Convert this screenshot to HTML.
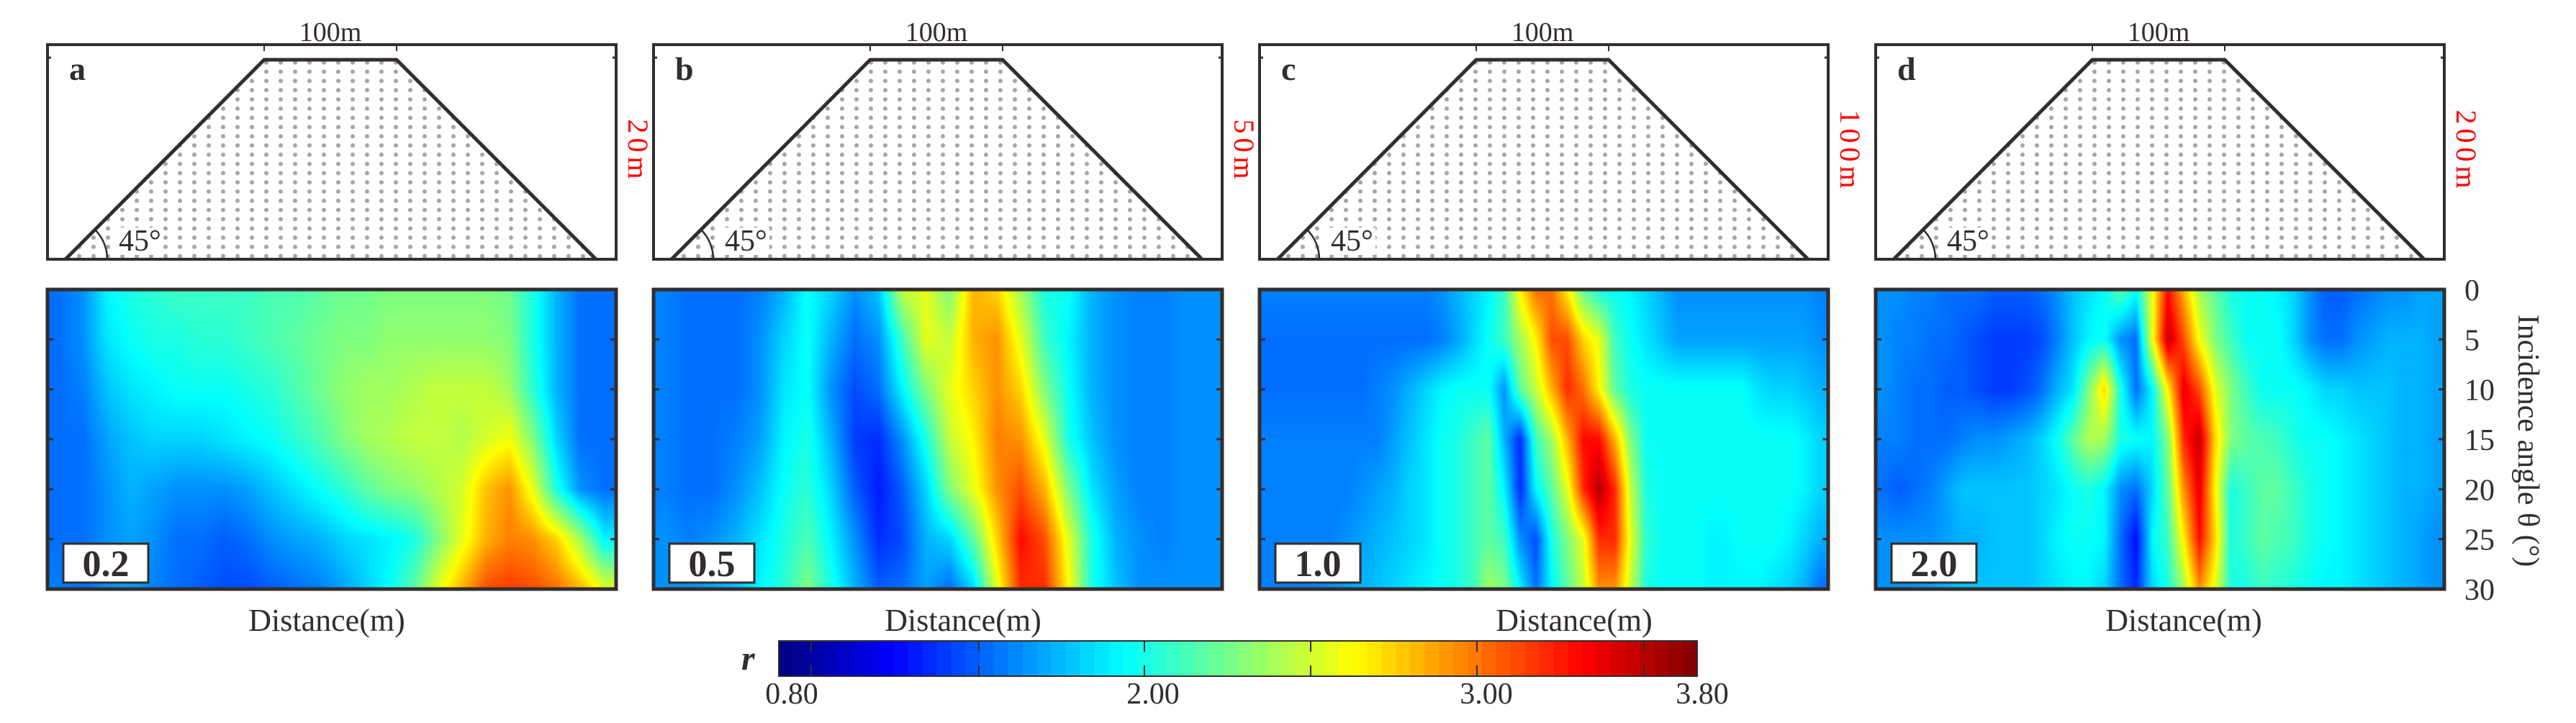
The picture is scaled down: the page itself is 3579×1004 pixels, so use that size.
<!DOCTYPE html>
<html><head><meta charset="utf-8">
<style>
html,body{margin:0;padding:0;background:#fff;}
#wrap{position:relative;width:3579px;height:1004px;overflow:hidden;background:#fff;font-family:"Liberation Serif",serif;}
canvas{position:absolute;}
svg{position:absolute;left:0;top:0;}
</style></head>
<body>
<div id="wrap">
<canvas id="hm-a"></canvas>
<canvas id="hm-b"></canvas>
<canvas id="hm-c"></canvas>
<canvas id="hm-d"></canvas>
<svg id="ov" width="3579" height="1004" xmlns="http://www.w3.org/2000/svg"></svg>
</div>
<script>
// ---- data ----
const angleTicks = [0,5,10,15,20,25,30];
const panelLetters = ['a','b','c','d'];
const heightLabels = ['20m','50m','100m','200m'];
const ratioLabels = ['0.2','0.5','1.0','2.0'];
const cbTickLabels = ['0.80','2.00','3.00','3.80'];
const cbTickValues = [0.80,2.00,3.00,3.80];
const rMin = 0.8, rMax = 3.8;

const gridA = [
[1.5,1.6,1.9,2.0,2.05,2.1,2.1,2.1,2.1,2.15,2.15,2.2,2.25,2.25,2.3,2.3,2.3,2.3,2.3,2.25,2.0,1.7,1.5,1.5],
[1.5,1.6,1.85,1.95,2.0,2.0,2.05,2.05,2.1,2.15,2.2,2.25,2.3,2.3,2.35,2.35,2.35,2.35,2.35,2.3,2.0,1.7,1.5,1.5],
[1.5,1.55,1.75,1.85,1.9,1.95,1.95,1.95,2.0,2.05,2.15,2.25,2.35,2.4,2.4,2.45,2.5,2.5,2.5,2.4,2.05,1.7,1.5,1.5],
[1.5,1.5,1.65,1.75,1.8,1.8,1.8,1.85,1.9,1.95,2.05,2.15,2.3,2.4,2.45,2.5,2.5,2.45,2.55,2.65,2.3,1.8,1.5,1.5],
[1.5,1.5,1.6,1.7,1.65,1.6,1.6,1.6,1.65,1.75,1.85,1.95,2.05,2.2,2.3,2.35,2.45,2.55,2.85,3.0,2.6,2.0,1.6,1.5],
[1.5,1.5,1.6,1.65,1.6,1.5,1.5,1.45,1.5,1.6,1.65,1.7,1.8,1.85,1.9,2.0,2.3,2.6,2.9,3.05,3.0,2.8,2.4,1.9],
[1.55,1.5,1.6,1.65,1.55,1.5,1.45,1.4,1.4,1.45,1.5,1.55,1.65,1.8,1.95,2.2,2.6,2.9,3.2,3.25,3.2,3.1,2.9,2.6]
];
const gridB = [
[1.55,1.5,1.5,1.5,1.55,1.7,1.95,1.8,1.6,1.75,2.5,2.6,2.3,2.9,2.8,2.4,2.0,1.95,1.7,1.6,1.55,1.55,1.6,1.6],
[1.55,1.5,1.5,1.5,1.6,1.8,1.95,1.7,1.5,1.6,2.1,2.6,2.5,2.9,3.0,2.6,2.1,1.9,1.7,1.6,1.55,1.55,1.6,1.6],
[1.55,1.5,1.5,1.5,1.6,1.85,1.95,1.6,1.4,1.5,1.9,2.3,2.6,2.8,3.0,2.8,2.3,1.95,1.7,1.6,1.55,1.55,1.6,1.6],
[1.55,1.5,1.5,1.55,1.65,1.9,2.0,1.7,1.35,1.3,1.6,2.0,2.5,2.7,3.05,3.0,2.6,2.0,1.75,1.6,1.55,1.55,1.6,1.6],
[1.55,1.5,1.5,1.6,1.75,1.95,2.05,1.8,1.45,1.25,1.45,1.8,2.3,2.6,3.0,3.2,2.9,2.3,1.85,1.65,1.55,1.55,1.6,1.6],
[1.6,1.55,1.6,1.7,1.85,2.0,2.15,1.9,1.6,1.3,1.4,1.7,1.8,2.2,2.8,3.4,3.2,2.6,2.0,1.7,1.6,1.55,1.6,1.6],
[1.6,1.6,1.65,1.75,1.9,2.05,2.3,2.0,1.7,1.45,1.5,1.65,1.5,1.8,2.6,3.3,3.3,2.7,2.0,1.75,1.6,1.6,1.6,1.6]
];
const gridC = [
[1.55,1.55,1.55,1.55,1.55,1.55,1.55,1.55,1.55,1.55,1.55,1.6,1.7,1.8,1.9,2.1,2.7,3.1,3.1,2.7,2.2,2.0,1.95,1.9,1.8,1.7,1.6,1.6,1.6,1.6,1.6,1.6,1.6,1.6,1.6,1.55],
[1.5,1.5,1.5,1.5,1.5,1.5,1.5,1.5,1.5,1.5,1.5,1.55,1.65,1.8,1.95,2.1,2.4,2.7,3.2,3.2,2.8,2.6,2.1,1.95,1.85,1.75,1.65,1.65,1.65,1.65,1.65,1.65,1.65,1.65,1.65,1.6],
[1.5,1.5,1.5,1.5,1.5,1.5,1.5,1.55,1.6,1.7,1.8,1.9,1.95,1.95,1.95,1.6,2.2,2.5,2.9,3.3,3.1,2.7,2.2,2.0,1.95,1.95,1.95,1.95,1.95,1.95,1.95,1.85,1.8,1.8,1.75,1.7],
[1.55,1.55,1.55,1.55,1.55,1.55,1.55,1.55,1.65,1.75,1.85,1.95,2.0,2.1,2.2,1.7,1.3,2.1,2.4,2.9,3.4,3.4,2.9,2.3,1.95,1.95,1.95,1.95,1.95,1.95,1.95,1.95,1.95,1.95,1.9,1.8],
[1.55,1.55,1.55,1.55,1.55,1.55,1.6,1.65,1.7,1.8,1.85,1.95,2.0,2.1,2.2,1.9,1.3,1.9,2.2,2.6,3.3,3.65,3.3,2.5,2.0,1.95,1.95,1.95,1.95,1.95,1.95,1.95,1.95,1.95,1.9,1.8],
[1.55,1.55,1.55,1.55,1.55,1.6,1.65,1.7,1.75,1.8,1.85,1.95,2.0,2.1,2.2,2.1,1.6,1.4,2.0,2.3,2.6,3.3,3.3,2.6,2.05,1.95,1.95,1.95,1.9,1.9,1.95,1.95,1.95,1.9,1.8,1.7],
[1.55,1.55,1.55,1.55,1.6,1.65,1.7,1.75,1.8,1.85,1.9,1.95,2.0,2.1,2.4,2.3,1.9,1.5,1.9,2.2,2.5,3.0,3.0,2.5,2.0,1.95,1.95,1.95,1.9,1.9,1.9,1.9,1.85,1.8,1.7,1.5]
];
const gridD = [
[1.6,1.6,1.55,1.55,1.5,1.5,1.5,1.45,1.45,1.45,1.5,1.6,1.75,1.85,1.95,2.2,1.95,2.6,3.4,2.9,2.4,2.2,2.0,1.95,1.95,1.9,1.8,1.6,1.45,1.45,1.5,1.55,1.6,1.6,1.65,1.65],
[1.6,1.55,1.55,1.5,1.5,1.45,1.4,1.35,1.35,1.35,1.4,1.55,1.75,1.9,1.95,1.6,1.5,2.6,3.6,3.2,2.65,2.3,2.1,1.95,1.95,1.95,1.8,1.6,1.5,1.5,1.6,1.65,1.7,1.7,1.7,1.65],
[1.6,1.55,1.5,1.5,1.45,1.45,1.4,1.35,1.35,1.4,1.5,1.7,1.85,2.3,2.8,2.0,1.5,1.9,2.7,3.5,3.2,2.6,2.3,2.1,1.95,1.95,1.95,1.9,1.8,1.8,1.75,1.75,1.75,1.7,1.7,1.65],
[1.55,1.55,1.5,1.5,1.5,1.55,1.6,1.6,1.65,1.7,1.8,1.95,2.2,2.45,2.4,2.0,1.95,1.9,2.3,3.3,3.6,2.8,2.3,2.2,2.15,2.1,2.0,1.95,1.95,1.9,1.85,1.8,1.75,1.7,1.7,1.65],
[1.5,1.45,1.5,1.55,1.65,1.75,1.75,1.75,1.75,1.75,1.8,1.85,1.95,2.0,1.9,1.6,1.5,1.8,2.2,3.0,3.5,2.7,2.0,2.1,2.2,2.2,2.1,2.0,1.95,1.9,1.85,1.8,1.75,1.7,1.7,1.65],
[1.6,1.6,1.6,1.6,1.65,1.7,1.7,1.75,1.75,1.75,1.8,1.9,1.95,1.95,1.9,1.5,1.2,1.9,2.1,2.7,3.4,2.8,2.0,2.1,2.2,2.15,2.1,2.0,1.95,1.9,1.85,1.8,1.75,1.7,1.65,1.6],
[1.6,1.6,1.6,1.65,1.7,1.75,1.75,1.75,1.75,1.75,1.8,1.85,1.9,1.9,1.8,1.5,1.3,1.8,2.0,2.4,3.0,2.6,2.0,2.0,2.1,2.05,2.0,1.95,1.9,1.9,1.85,1.8,1.75,1.7,1.65,1.6]
];
const grids = [gridA, gridB, gridC, gridD];

// ---- layout ----
const panelX = [66, 908, 1750, 2606];
const panelW = 790;
const topY0 = 62, topY1 = 360;
const hmY0 = 402, hmY1 = 818;
const distCenters = [454, 1338, 2187, 3034];
const cbX0 = 1082, cbX1 = 2358, cbY0 = 890, cbY1 = 939;
const cbTickPx = [1100, 1602, 2065, 2365];

const NS = 'http://www.w3.org/2000/svg';
const svg = document.getElementById('ov');
function mk(tag, attrs, parent){
  const e = document.createElementNS(NS, tag);
  for (const k in attrs) e.setAttribute(k, attrs[k]);
  (parent||svg).appendChild(e);
  return e;
}
function jet(t){
  t = Math.max(0, Math.min(1, t));
  const c = v => Math.round(255*Math.max(0, Math.min(1, v)));
  return [c(1.5-Math.abs(4*t-3)), c(1.5-Math.abs(4*t-2)), c(1.5-Math.abs(4*t-1))];
}
const valToT = v => (v - rMin)/(rMax - rMin);
const angleToY = a => hmY0 + (a/30)*(hmY1-hmY0);

// ---- heatmaps ----
['hm-a','hm-b','hm-c','hm-d'].forEach((id, p) => {
  const cv = document.getElementById(id);
  const W = panelW, H = hmY1-hmY0;
  cv.width = W; cv.height = H;
  cv.style.left = panelX[p]+'px'; cv.style.top = hmY0+'px';
  const ctx = cv.getContext('2d');
  const img = ctx.createImageData(W, H);
  const g = grids[p], rows = g.length, cols = g[0].length;
  for (let y=0; y<H; y++){
    let fy = (y+0.5)/H*(rows-1);
    const y0 = Math.min(rows-2, Math.floor(fy)), wy = fy - y0;
    for (let x=0; x<W; x++){
      let fx = (x+0.5)/W*cols - 0.5;
      fx = Math.max(0, Math.min(cols-1, fx));
      const x0 = Math.min(cols-2, Math.floor(fx)), wx = fx - x0;
      const v = (g[y0][x0]*(1-wx)+g[y0][x0+1]*wx)*(1-wy) + (g[y0+1][x0]*(1-wx)+g[y0+1][x0+1]*wx)*wy;
      const col = jet(valToT(v));
      const i = (y*W+x)*4;
      img.data[i]=col[0]; img.data[i+1]=col[1]; img.data[i+2]=col[2]; img.data[i+3]=255;
    }
  }
  ctx.putImageData(img, 0, 0);
});

// ---- defs: dot pattern ----
const defs = mk('defs', {});
const pat = mk('pattern', {id:'dots', x:0, y:4, width:20, height:12.8, patternUnits:'userSpaceOnUse'}, defs);
mk('circle', {cx:10, cy:6, r:3, fill:'#a6a6a6'}, pat);

const ink = '#332d2d';
for (let p=0; p<4; p++){
  const L = panelX[p], R = L+panelW;
  const g = mk('g', {});
  
  
  const tx0 = L+301, tx1 = L+485, bx0 = L+25, bx1 = L+762, ty = 83;
  const poly = `${bx0},${topY1} ${tx0},${ty} ${tx1},${ty} ${bx1},${topY1}`;
  mk('polygon', {points:poly, fill:'url(#dots)',  }, g);
  mk('rect', {x:L+97, y:316, width:64, height:38, fill:'#fff'}, g);
  mk('polyline', {points:`${bx0},${topY1} ${tx0},${ty} ${tx1},${ty} ${bx1},${topY1}`, fill:'none', stroke:ink, 'stroke-width':5,  }, g);
  mk('rect', {x:L, y:topY0, width:panelW, height:topY1-topY0, fill:'none', stroke:ink, 'stroke-width':4,  }, g);
  mk('line', {x1:tx0, y1:topY0, x2:tx0, y2:topY0+9, stroke:ink, 'stroke-width':2}, g);
  mk('line', {x1:tx1, y1:topY0, x2:tx1, y2:topY0+9, stroke:ink, 'stroke-width':2}, g);
  mk('line', {x1:L, y1:80, x2:L+5, y2:80, stroke:ink, 'stroke-width':3}, g);
  mk('line', {x1:R-5, y1:80, x2:R, y2:80, stroke:ink, 'stroke-width':3}, g);
  const rA = 58, ang = Math.atan2(topY1-ty, tx0-bx0);
  mk('path', {d:`M ${bx0+rA*Math.cos(ang)} ${topY1-rA*Math.sin(ang)} A ${rA} ${rA} 0 0 1 ${bx0+rA} ${topY1}`, fill:'none', stroke:ink, 'stroke-width':2.5,  }, g);
  const t45 = mk('text', {x:L+99, y:348, 'font-size':42, fill:ink,  }, g);
  t45.textContent = '45°';
  const tl = mk('text', {x:(tx0+tx1)/2, y:57, 'font-size':38, fill:ink, 'text-anchor':'middle',  }, g);
  tl.textContent = '100m';
  const pl = mk('text', {x:L+30, y:111, 'font-size':46, 'font-weight':'bold', fill:ink,  }, g);
  pl.textContent = panelLetters[p];
  const hx = R+17, hy = 210;
  const hl = mk('text', {x:hx, y:hy, 'font-size':40, fill:'#ff0000', 'text-anchor':'middle', 'letter-spacing':6, transform:`rotate(90 ${hx} ${hy})`,  }, g);
  hl.textContent = heightLabels[p];

  const hg = mk('g', {});
  
  
  mk('rect', {x:L, y:hmY0, width:panelW, height:hmY1-hmY0, fill:'none', stroke:ink, 'stroke-width':5}, hg);
  angleTicks.forEach(a => {
    if (a===0 || a===30) return;
    const y = angleToY(a);
    mk('line', {x1:L, y1:y, x2:L+8, y2:y, stroke:ink, 'stroke-width':3}, hg);
    mk('line', {x1:R-8, y1:y, x2:R, y2:y, stroke:ink, 'stroke-width':3}, hg);
  });
  mk('rect', {x:L+22, y:755, width:118, height:54, fill:'#fff', stroke:ink, 'stroke-width':3,  }, hg);
  const rl = mk('text', {x:L+81, y:800, 'font-size':52, 'font-weight':'bold', fill:ink, 'text-anchor':'middle',  }, hg);
  rl.textContent = ratioLabels[p];
  const dl = mk('text', {x:distCenters[p], y:876, 'font-size':44, fill:ink, 'text-anchor':'middle',  }, hg);
  dl.textContent = 'Distance(m)';
}

angleTicks.forEach(a => {
  const t = mk('text', {x:3424, y:angleToY(a)+15, 'font-size':42, fill:ink});
  
  
  t.textContent = a;
});
const yt = mk('text', {x:3497, y:612, 'font-size':42, fill:ink, 'text-anchor':'middle', transform:'rotate(90 3497 612)',  });
yt.setAttribute('dy', '-0.05em');
yt.textContent = 'Incidence angle θ (°)';

const cb = mk('g', { });
const nb = 64, bw = (cbX1-cbX0)/nb;
for (let i=0;i<nb;i++){
  const c = jet((i+0.5)/nb);
  mk('rect', {x:cbX0+i*bw, y:cbY0, width:bw+0.6, height:cbY1-cbY0, fill:`rgb(${c[0]},${c[1]},${c[2]})`}, cb);
}
mk('rect', {x:cbX0, y:cbY0, width:cbX1-cbX0, height:cbY1-cbY0, fill:'none', stroke:ink, 'stroke-width':2}, cb);
[1127,1360,1590,1821,2052,2284].forEach(x => {
  mk('line', {x1:x, y1:cbY0, x2:x, y2:cbY0+15, stroke:ink, 'stroke-width':2}, cb);
  mk('line', {x1:x, y1:cbY1-15, x2:x, y2:cbY1, stroke:ink, 'stroke-width':2}, cb);
});
cbTickLabels.forEach((s,i) => {
  const t = mk('text', {x:cbTickPx[i], y:977, 'font-size':42, fill:ink, 'text-anchor':'middle'}, cb);
  
  
  t.textContent = s;
});
const rt = mk('text', {x:1030, y:930, 'font-size':48, 'font-weight':'bold', 'font-style':'italic', fill:ink,  });
rt.textContent = 'r';
</script>
</body></html>
